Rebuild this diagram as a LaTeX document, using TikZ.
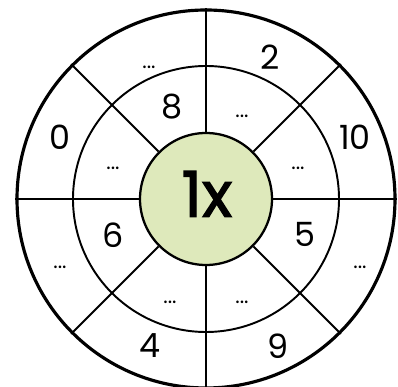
\documentclass[tikz,border=0pt]{standalone}
\usepackage{fontspec}
\setmainfont{Poppins}
\newfontface\hubfont{Poppins}[FakeBold=2]
\usepackage{tikz}
\usetikzlibrary{positioning}

\begin{document}
\begin{tikzpicture}[
    rimc/.style={draw, circle, line width=0.9pt, minimum size=3.78cm, inner sep=0pt},
    ringc/.style={draw, circle, line width=0.55pt, minimum size=2.66cm, inner sep=0pt},
    hubc/.style={draw, circle, line width=0.65pt, fill={rgb,255:red,222;green,233;blue,187}, minimum size=1.32cm, inner sep=0pt},
    spoke/.style={line width=0.55pt},
    num/.style={inner sep=0pt, font=\fontsize{9.5}{9.5}\selectfont},
    gap/.style={inner sep=0pt, font=\fontsize{6}{6}\selectfont}
]
\useasboundingbox (-2.06,-1.88) rectangle (1.92,1.99);

% Rings
\node[rimc] (rim) at (0,0) {};
\node[ringc] (ring) at (0,0) {};
\node[hubc] (hub) at (0,0) {};
\node[inner sep=0pt, font=\fontsize{18}{18}\hubfont] (title) at (0.01,0.05) {1x};

% Spokes
\draw[spoke] (hub.0) -- (rim.0);
\draw[spoke] (hub.45) -- (rim.45);
\draw[spoke] (hub.90) -- (rim.90);
\draw[spoke] (hub.135) -- (rim.135);
\draw[spoke] (hub.180) -- (rim.180);
\draw[spoke] (hub.225) -- (rim.225);
\draw[spoke] (hub.270) -- (rim.270);
\draw[spoke] (hub.315) -- (rim.315);

% Outer ring
\node[gap] (o1) at (-0.57,1.32) {...};
\node[num] (o2) at (0.64,1.42) {2};
\node[num] (o3) at (1.49,0.62) {10};
\node[gap] (o4) at (1.54,-0.68) {...};
\node[num] (o5) at (0.72,-1.47) {9};
\node[num] (o6) at (-0.56,-1.47) {4};
\node[gap] (o7) at (-1.46,-0.68) {...};
\node[num] (o8) at (-1.46,0.62) {0};

% Inner ring
\node[num] (i1) at (-0.34,0.92) {8};
\node[gap] (i2) at (0.36,0.83) {...};
\node[gap] (i3) at (0.92,0.31) {...};
\node[num] (i4) at (0.99,-0.35) {5};
\node[gap] (i5) at (0.36,-1.03) {...};
\node[gap] (i6) at (-0.36,-1.03) {...};
\node[num] (i7) at (-0.93,-0.36) {6};
\node[gap] (i8) at (-0.93,0.31) {...};

\end{tikzpicture}
\end{document}
